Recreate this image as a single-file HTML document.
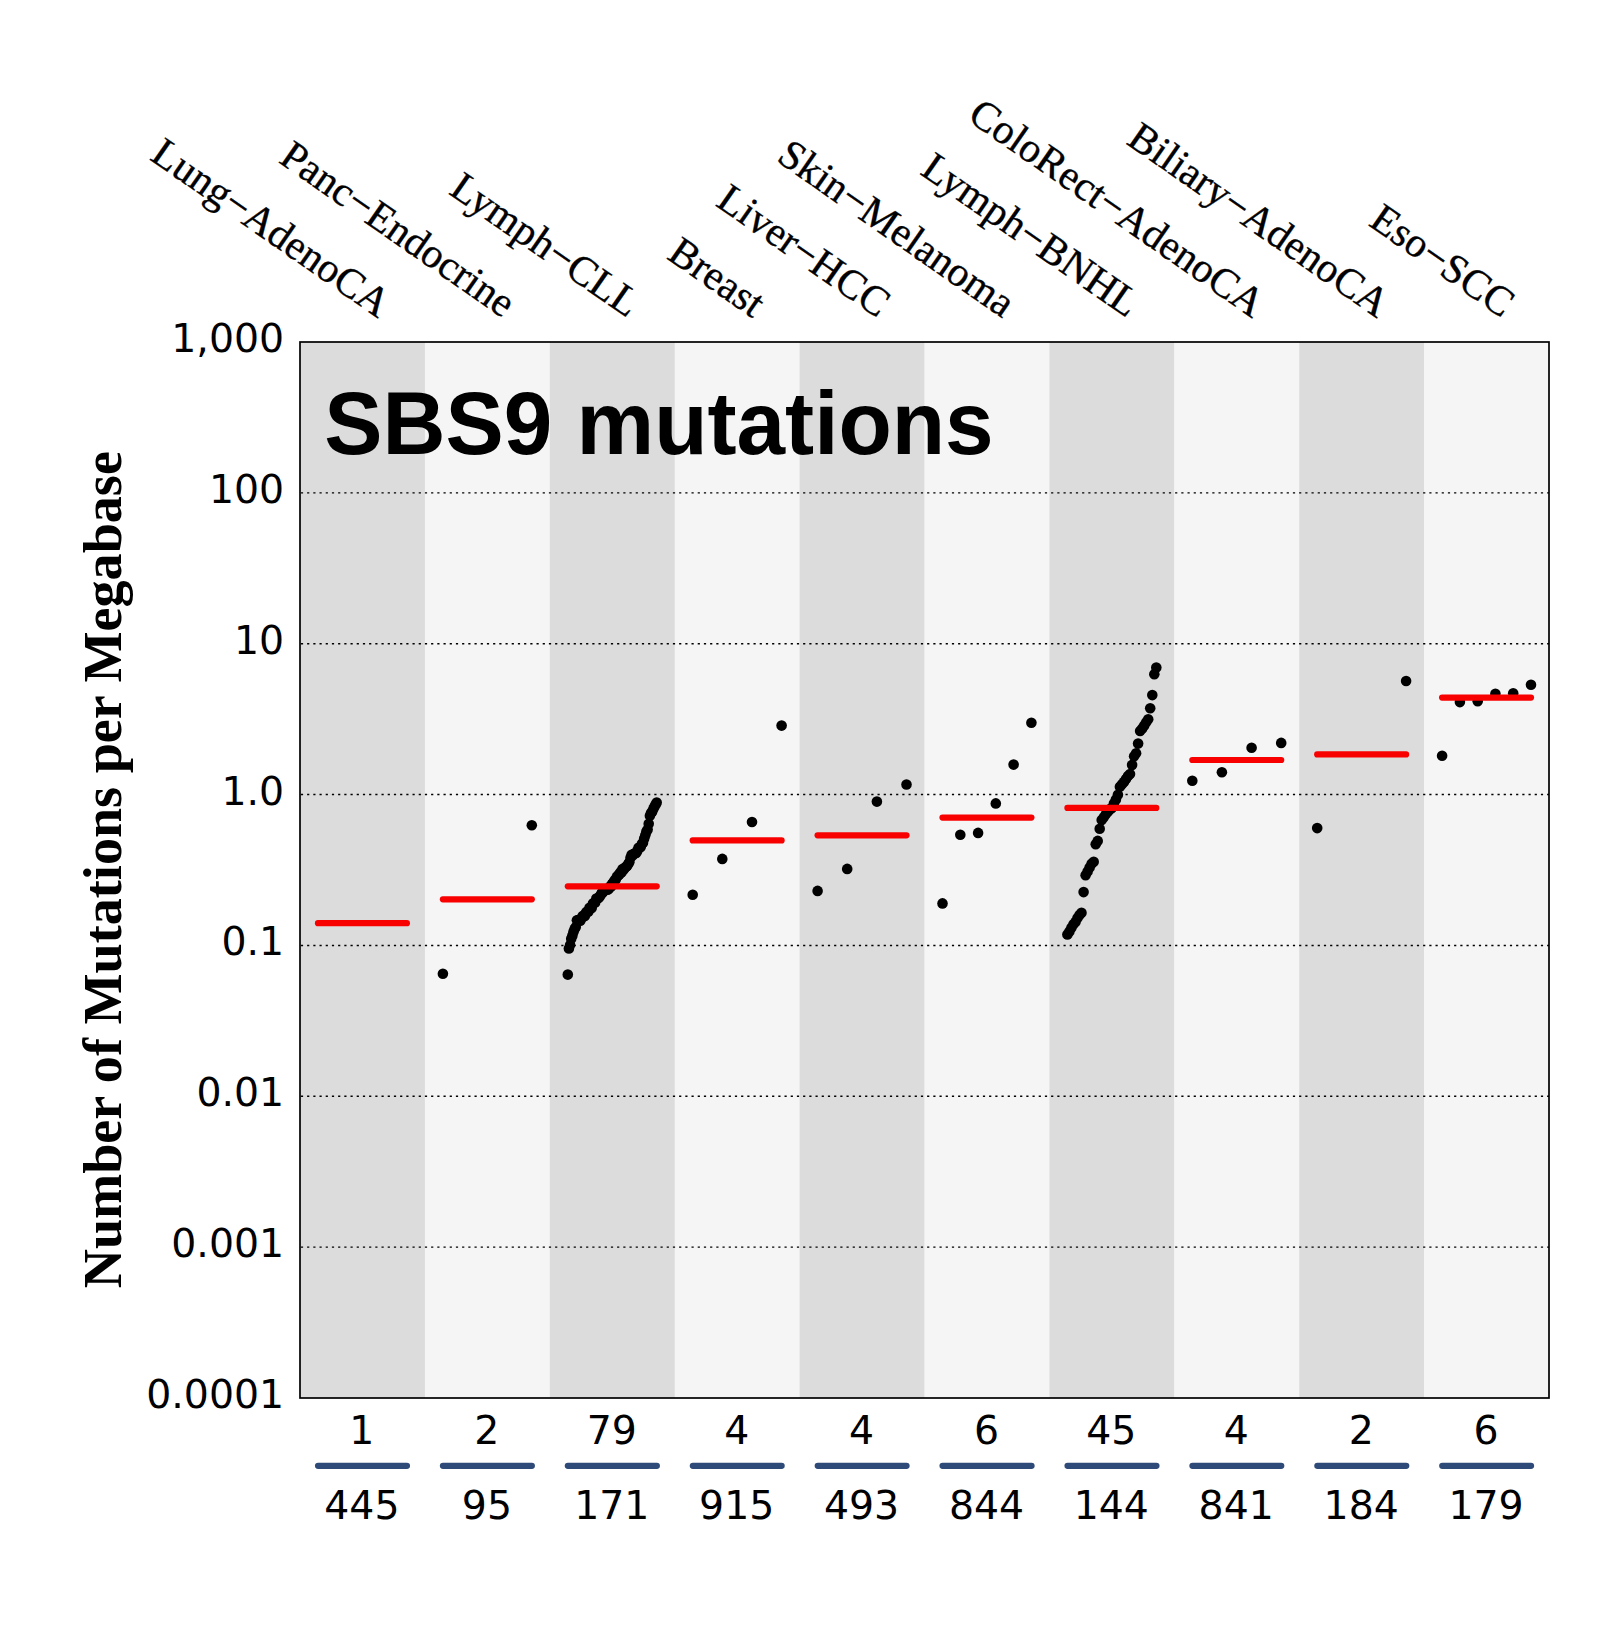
<!DOCTYPE html>
<html lang="en"><head><meta charset="utf-8"><title>SBS9 mutations</title>
<style>html,body{margin:0;padding:0;background:#fff}svg{display:block}.tk{font-family:"DejaVu Sans","Liberation Sans",sans-serif;font-size:39.4px;fill:#000}.lb{font-family:"Liberation Serif",serif;font-size:41.5px;fill:#000;stroke:#000;stroke-width:0.35px}.yl{font-family:"Liberation Serif",serif;font-weight:bold;font-size:54.15px;fill:#000}.tt{font-family:"Liberation Sans",sans-serif;font-weight:bold;font-size:87.3px;fill:#000}</style></head><body>
<svg width="1607" height="1650" viewBox="0 0 1607 1650">
<rect width="1607" height="1650" fill="#fff"/>
<rect x="300.00" y="342.0" width="125.20" height="1056.00" fill="#dcdcdc"/>
<rect x="424.90" y="342.0" width="125.20" height="1056.00" fill="#f5f5f5"/>
<rect x="549.80" y="342.0" width="125.20" height="1056.00" fill="#dcdcdc"/>
<rect x="674.70" y="342.0" width="125.20" height="1056.00" fill="#f5f5f5"/>
<rect x="799.60" y="342.0" width="125.20" height="1056.00" fill="#dcdcdc"/>
<rect x="924.50" y="342.0" width="125.20" height="1056.00" fill="#f5f5f5"/>
<rect x="1049.40" y="342.0" width="125.20" height="1056.00" fill="#dcdcdc"/>
<rect x="1174.30" y="342.0" width="125.20" height="1056.00" fill="#f5f5f5"/>
<rect x="1299.20" y="342.0" width="125.20" height="1056.00" fill="#dcdcdc"/>
<rect x="1424.10" y="342.0" width="125.20" height="1056.00" fill="#f5f5f5"/>
<line x1="300.0" x2="1549.0" y1="492.86" y2="492.86" stroke="#000" stroke-width="1.45" stroke-dasharray="2.2 4.0" stroke-dashoffset="-0.9"/>
<line x1="300.0" x2="1549.0" y1="643.71" y2="643.71" stroke="#000" stroke-width="1.45" stroke-dasharray="2.2 4.0" stroke-dashoffset="-0.9"/>
<line x1="300.0" x2="1549.0" y1="794.57" y2="794.57" stroke="#000" stroke-width="1.45" stroke-dasharray="2.2 4.0" stroke-dashoffset="-0.9"/>
<line x1="300.0" x2="1549.0" y1="945.43" y2="945.43" stroke="#000" stroke-width="1.45" stroke-dasharray="2.2 4.0" stroke-dashoffset="-0.9"/>
<line x1="300.0" x2="1549.0" y1="1096.29" y2="1096.29" stroke="#000" stroke-width="1.45" stroke-dasharray="2.2 4.0" stroke-dashoffset="-0.9"/>
<line x1="300.0" x2="1549.0" y1="1247.14" y2="1247.14" stroke="#000" stroke-width="1.45" stroke-dasharray="2.2 4.0" stroke-dashoffset="-0.9"/>
<text class="tt" transform="translate(324.3 453.8) scale(1 1.02)">SBS9 mutations</text>
<g fill="#000">
<circle cx="442.9" cy="973.8" r="5.3"/>
<circle cx="531.8" cy="825.2" r="5.3"/>
<circle cx="567.8" cy="974.6" r="5.3"/>
<circle cx="568.9" cy="948.4" r="5.3"/>
<circle cx="570.1" cy="945.0" r="5.3"/>
<circle cx="571.2" cy="938.8" r="5.3"/>
<circle cx="572.4" cy="935.6" r="5.3"/>
<circle cx="573.5" cy="931.8" r="5.3"/>
<circle cx="574.6" cy="928.9" r="5.3"/>
<circle cx="575.8" cy="927.0" r="5.3"/>
<circle cx="576.9" cy="920.2" r="5.3"/>
<circle cx="578.1" cy="920.1" r="5.3"/>
<circle cx="579.2" cy="920.5" r="5.3"/>
<circle cx="580.3" cy="920.8" r="5.3"/>
<circle cx="581.5" cy="918.3" r="5.3"/>
<circle cx="582.6" cy="916.1" r="5.3"/>
<circle cx="583.8" cy="915.5" r="5.3"/>
<circle cx="584.9" cy="916.1" r="5.3"/>
<circle cx="586.0" cy="912.4" r="5.3"/>
<circle cx="587.2" cy="911.6" r="5.3"/>
<circle cx="588.3" cy="911.8" r="5.3"/>
<circle cx="589.5" cy="907.7" r="5.3"/>
<circle cx="590.6" cy="908.3" r="5.3"/>
<circle cx="591.7" cy="908.0" r="5.3"/>
<circle cx="592.9" cy="903.6" r="5.3"/>
<circle cx="594.0" cy="902.7" r="5.3"/>
<circle cx="595.2" cy="902.4" r="5.3"/>
<circle cx="596.3" cy="898.6" r="5.3"/>
<circle cx="597.4" cy="898.6" r="5.3"/>
<circle cx="598.6" cy="898.1" r="5.3"/>
<circle cx="599.7" cy="896.5" r="5.3"/>
<circle cx="600.9" cy="894.6" r="5.3"/>
<circle cx="602.0" cy="892.5" r="5.3"/>
<circle cx="603.1" cy="892.2" r="5.3"/>
<circle cx="604.3" cy="890.6" r="5.3"/>
<circle cx="605.4" cy="890.1" r="5.3"/>
<circle cx="606.6" cy="889.0" r="5.3"/>
<circle cx="607.7" cy="889.7" r="5.3"/>
<circle cx="608.8" cy="888.7" r="5.3"/>
<circle cx="610.0" cy="886.5" r="5.3"/>
<circle cx="611.1" cy="886.5" r="5.3"/>
<circle cx="612.2" cy="883.8" r="5.3"/>
<circle cx="613.4" cy="882.5" r="5.3"/>
<circle cx="614.5" cy="880.4" r="5.3"/>
<circle cx="615.7" cy="879.6" r="5.3"/>
<circle cx="616.8" cy="876.9" r="5.3"/>
<circle cx="617.9" cy="875.4" r="5.3"/>
<circle cx="619.1" cy="874.8" r="5.3"/>
<circle cx="620.2" cy="872.4" r="5.3"/>
<circle cx="621.4" cy="872.6" r="5.3"/>
<circle cx="622.5" cy="869.0" r="5.3"/>
<circle cx="623.6" cy="869.8" r="5.3"/>
<circle cx="624.8" cy="867.7" r="5.3"/>
<circle cx="625.9" cy="866.7" r="5.3"/>
<circle cx="627.1" cy="866.0" r="5.3"/>
<circle cx="628.2" cy="864.1" r="5.3"/>
<circle cx="629.3" cy="862.2" r="5.3"/>
<circle cx="630.5" cy="857.8" r="5.3"/>
<circle cx="631.6" cy="854.7" r="5.3"/>
<circle cx="632.8" cy="855.3" r="5.3"/>
<circle cx="633.9" cy="853.7" r="5.3"/>
<circle cx="635.0" cy="853.2" r="5.3"/>
<circle cx="636.2" cy="852.9" r="5.3"/>
<circle cx="637.3" cy="850.9" r="5.3"/>
<circle cx="638.5" cy="847.7" r="5.3"/>
<circle cx="639.6" cy="847.4" r="5.3"/>
<circle cx="640.7" cy="847.1" r="5.3"/>
<circle cx="641.9" cy="843.8" r="5.3"/>
<circle cx="643.0" cy="842.7" r="5.3"/>
<circle cx="644.2" cy="838.5" r="5.3"/>
<circle cx="645.3" cy="835.2" r="5.3"/>
<circle cx="646.4" cy="831.5" r="5.3"/>
<circle cx="647.6" cy="829.6" r="5.3"/>
<circle cx="648.7" cy="823.7" r="5.3"/>
<circle cx="649.9" cy="815.8" r="5.3"/>
<circle cx="651.0" cy="813.1" r="5.3"/>
<circle cx="652.1" cy="811.9" r="5.3"/>
<circle cx="653.3" cy="808.9" r="5.3"/>
<circle cx="654.4" cy="806.7" r="5.3"/>
<circle cx="655.6" cy="804.5" r="5.3"/>
<circle cx="656.7" cy="802.5" r="5.3"/>
<circle cx="692.7" cy="894.8" r="5.3"/>
<circle cx="722.3" cy="858.9" r="5.3"/>
<circle cx="752.0" cy="822.0" r="5.3"/>
<circle cx="781.6" cy="725.6" r="5.3"/>
<circle cx="817.6" cy="890.9" r="5.3"/>
<circle cx="847.2" cy="868.9" r="5.3"/>
<circle cx="876.9" cy="801.6" r="5.3"/>
<circle cx="906.5" cy="784.5" r="5.3"/>
<circle cx="942.5" cy="903.4" r="5.3"/>
<circle cx="960.3" cy="834.8" r="5.3"/>
<circle cx="978.1" cy="832.9" r="5.3"/>
<circle cx="995.8" cy="803.4" r="5.3"/>
<circle cx="1013.6" cy="764.6" r="5.3"/>
<circle cx="1031.4" cy="722.8" r="5.3"/>
<circle cx="1067.4" cy="934.5" r="5.3"/>
<circle cx="1069.4" cy="931.6" r="5.3"/>
<circle cx="1071.4" cy="927.7" r="5.3"/>
<circle cx="1073.5" cy="924.3" r="5.3"/>
<circle cx="1075.5" cy="921.9" r="5.3"/>
<circle cx="1077.5" cy="918.0" r="5.3"/>
<circle cx="1079.5" cy="915.1" r="5.3"/>
<circle cx="1081.5" cy="912.7" r="5.3"/>
<circle cx="1083.6" cy="892.1" r="5.3"/>
<circle cx="1085.6" cy="875.3" r="5.3"/>
<circle cx="1087.6" cy="871.5" r="5.3"/>
<circle cx="1089.6" cy="867.6" r="5.3"/>
<circle cx="1091.6" cy="863.7" r="5.3"/>
<circle cx="1093.7" cy="861.8" r="5.3"/>
<circle cx="1095.7" cy="844.3" r="5.3"/>
<circle cx="1097.7" cy="840.9" r="5.3"/>
<circle cx="1099.7" cy="828.8" r="5.3"/>
<circle cx="1101.7" cy="820.1" r="5.3"/>
<circle cx="1103.8" cy="817.2" r="5.3"/>
<circle cx="1105.8" cy="814.2" r="5.3"/>
<circle cx="1107.8" cy="811.8" r="5.3"/>
<circle cx="1109.8" cy="809.4" r="5.3"/>
<circle cx="1111.9" cy="807.9" r="5.3"/>
<circle cx="1113.9" cy="803.4" r="5.3"/>
<circle cx="1115.9" cy="799.5" r="5.3"/>
<circle cx="1117.9" cy="794.7" r="5.3"/>
<circle cx="1119.9" cy="786.7" r="5.3"/>
<circle cx="1122.0" cy="784.3" r="5.3"/>
<circle cx="1124.0" cy="781.9" r="5.3"/>
<circle cx="1126.0" cy="779.0" r="5.3"/>
<circle cx="1128.0" cy="776.1" r="5.3"/>
<circle cx="1130.0" cy="774.1" r="5.3"/>
<circle cx="1132.1" cy="764.9" r="5.3"/>
<circle cx="1134.1" cy="756.2" r="5.3"/>
<circle cx="1136.1" cy="753.3" r="5.3"/>
<circle cx="1138.1" cy="743.6" r="5.3"/>
<circle cx="1140.1" cy="731.0" r="5.3"/>
<circle cx="1142.2" cy="728.5" r="5.3"/>
<circle cx="1144.2" cy="725.6" r="5.3"/>
<circle cx="1146.2" cy="722.2" r="5.3"/>
<circle cx="1148.2" cy="719.3" r="5.3"/>
<circle cx="1150.2" cy="708.2" r="5.3"/>
<circle cx="1152.3" cy="695.1" r="5.3"/>
<circle cx="1154.3" cy="674.2" r="5.3"/>
<circle cx="1156.3" cy="667.5" r="5.3"/>
<circle cx="1192.3" cy="780.8" r="5.3"/>
<circle cx="1221.9" cy="772.3" r="5.3"/>
<circle cx="1251.6" cy="747.8" r="5.3"/>
<circle cx="1281.2" cy="742.9" r="5.3"/>
<circle cx="1317.2" cy="828.1" r="5.3"/>
<circle cx="1406.1" cy="681.0" r="5.3"/>
<circle cx="1442.1" cy="755.8" r="5.3"/>
<circle cx="1459.9" cy="702.1" r="5.3"/>
<circle cx="1477.7" cy="701.2" r="5.3"/>
<circle cx="1495.4" cy="693.7" r="5.3"/>
<circle cx="1513.2" cy="693.3" r="5.3"/>
<circle cx="1531.0" cy="684.8" r="5.3"/>
</g>
<g stroke="#f80000" stroke-width="6.2" stroke-linecap="round">
<line x1="318.0" x2="406.9" y1="923.2" y2="923.2"/>
<line x1="442.9" x2="531.8" y1="899.3" y2="899.3"/>
<line x1="567.8" x2="656.7" y1="886.3" y2="886.3"/>
<line x1="692.7" x2="781.6" y1="840.4" y2="840.4"/>
<line x1="817.6" x2="906.5" y1="835.3" y2="835.3"/>
<line x1="942.5" x2="1031.4" y1="817.6" y2="817.6"/>
<line x1="1067.4" x2="1156.3" y1="807.9" y2="807.9"/>
<line x1="1192.3" x2="1281.2" y1="760.0" y2="760.0"/>
<line x1="1317.2" x2="1406.1" y1="754.4" y2="754.4"/>
<line x1="1442.1" x2="1531.0" y1="697.6" y2="697.6"/>
</g>
<rect x="300.0" y="342.0" width="1249.0" height="1056.00" fill="none" stroke="#000" stroke-width="1.7"/>
<text class="tk" x="284.1" y="352.0" text-anchor="end">1,000</text>
<text class="tk" x="284.1" y="502.9" text-anchor="end">100</text>
<text class="tk" x="284.1" y="653.7" text-anchor="end">10</text>
<text class="tk" x="284.1" y="804.6" text-anchor="end">1.0</text>
<text class="tk" x="284.1" y="955.4" text-anchor="end">0.1</text>
<text class="tk" x="284.1" y="1106.3" text-anchor="end">0.01</text>
<text class="tk" x="284.1" y="1257.1" text-anchor="end">0.001</text>
<text class="tk" x="284.1" y="1408.0" text-anchor="end">0.0001</text>
<text class="tk" x="361.9" y="1444" text-anchor="middle">1</text>
<text class="tk" x="361.9" y="1518.6" text-anchor="middle">445</text>
<line x1="318.1" x2="406.9" y1="1465.85" y2="1465.85" stroke="#2e4a78" stroke-width="6.3" stroke-linecap="round"/>
<text class="tk" x="486.9" y="1444" text-anchor="middle">2</text>
<text class="tk" x="486.9" y="1518.6" text-anchor="middle">95</text>
<line x1="443.0" x2="531.8" y1="1465.85" y2="1465.85" stroke="#2e4a78" stroke-width="6.3" stroke-linecap="round"/>
<text class="tk" x="611.8" y="1444" text-anchor="middle">79</text>
<text class="tk" x="611.8" y="1518.6" text-anchor="middle">171</text>
<line x1="567.9" x2="656.8" y1="1465.85" y2="1465.85" stroke="#2e4a78" stroke-width="6.3" stroke-linecap="round"/>
<text class="tk" x="736.7" y="1444" text-anchor="middle">4</text>
<text class="tk" x="736.7" y="1518.6" text-anchor="middle">915</text>
<line x1="692.9" x2="781.6" y1="1465.85" y2="1465.85" stroke="#2e4a78" stroke-width="6.3" stroke-linecap="round"/>
<text class="tk" x="861.6" y="1444" text-anchor="middle">4</text>
<text class="tk" x="861.6" y="1518.6" text-anchor="middle">493</text>
<line x1="817.8" x2="906.5" y1="1465.85" y2="1465.85" stroke="#2e4a78" stroke-width="6.3" stroke-linecap="round"/>
<text class="tk" x="986.5" y="1444" text-anchor="middle">6</text>
<text class="tk" x="986.5" y="1518.6" text-anchor="middle">844</text>
<line x1="942.6" x2="1031.5" y1="1465.85" y2="1465.85" stroke="#2e4a78" stroke-width="6.3" stroke-linecap="round"/>
<text class="tk" x="1111.3" y="1444" text-anchor="middle">45</text>
<text class="tk" x="1111.3" y="1518.6" text-anchor="middle">144</text>
<line x1="1067.6" x2="1156.4" y1="1465.85" y2="1465.85" stroke="#2e4a78" stroke-width="6.3" stroke-linecap="round"/>
<text class="tk" x="1236.2" y="1444" text-anchor="middle">4</text>
<text class="tk" x="1236.2" y="1518.6" text-anchor="middle">841</text>
<line x1="1192.5" x2="1281.2" y1="1465.85" y2="1465.85" stroke="#2e4a78" stroke-width="6.3" stroke-linecap="round"/>
<text class="tk" x="1361.2" y="1444" text-anchor="middle">2</text>
<text class="tk" x="1361.2" y="1518.6" text-anchor="middle">184</text>
<line x1="1317.4" x2="1406.2" y1="1465.85" y2="1465.85" stroke="#2e4a78" stroke-width="6.3" stroke-linecap="round"/>
<text class="tk" x="1486.0" y="1444" text-anchor="middle">6</text>
<text class="tk" x="1486.0" y="1518.6" text-anchor="middle">179</text>
<line x1="1442.3" x2="1531.0" y1="1465.85" y2="1465.85" stroke="#2e4a78" stroke-width="6.3" stroke-linecap="round"/>
<text class="yl" transform="translate(121.4 869.6) rotate(-90)" text-anchor="middle">Number of Mutations per Megabase</text>
<text class="lb" transform="translate(378.0 318.6) rotate(34.85)" text-anchor="end">Lung−AdenoCA</text>
<text class="lb" transform="translate(502.9 318.6) rotate(34.85)" text-anchor="end">Panc−Endocrine</text>
<text class="lb" transform="translate(627.8 318.6) rotate(34.85)" text-anchor="end">Lymph−CLL</text>
<text class="lb" transform="translate(752.7 318.6) rotate(34.85)" text-anchor="end">Breast</text>
<text class="lb" transform="translate(877.6 318.6) rotate(34.85)" text-anchor="end">Liver−HCC</text>
<text class="lb" transform="translate(1002.5 318.6) rotate(34.85)" text-anchor="end">Skin−Melanoma</text>
<text class="lb" transform="translate(1127.4 318.6) rotate(34.85)" text-anchor="end">Lymph−BNHL</text>
<text class="lb" transform="translate(1252.3 318.6) rotate(34.85)" text-anchor="end">ColoRect−AdenoCA</text>
<text class="lb" transform="translate(1377.2 318.6) rotate(34.85)" text-anchor="end">Biliary−AdenoCA</text>
<text class="lb" transform="translate(1502.1 318.6) rotate(34.85)" text-anchor="end">Eso−SCC</text>
</svg></body></html>
